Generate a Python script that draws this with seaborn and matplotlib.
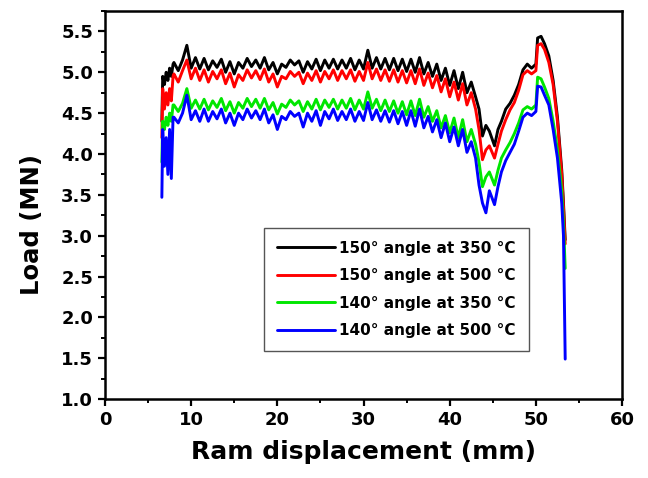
import numpy as np
import pandas as pd
import seaborn as sns
import matplotlib.pyplot as plt
from matplotlib.ticker import MultipleLocator

# ram displacement (mm), shared by all four runs
disp = [6.6, 6.7, 6.9, 7.1, 7.3, 7.5, 7.7, 7.9,
        8.0, 8.5, 9.0, 9.5, 10.0, 10.5, 11.0, 11.5, 12.0, 12.5, 13.0, 13.5,
        14.0, 14.5, 15.0, 15.5, 16.0, 16.5, 17.0, 17.5, 18.0, 18.5, 19.0, 19.5,
        20.0, 20.5, 21.0, 21.5, 22.0, 22.5, 23.0, 23.5, 24.0, 24.5, 25.0, 25.5,
        26.0, 26.5, 27.0, 27.5, 28.0, 28.5, 29.0, 29.5, 30.0, 30.5, 31.0, 31.5,
        32.0, 32.5, 33.0, 33.5, 34.0, 34.5, 35.0, 35.5, 36.0, 36.5, 37.0, 37.5,
        38.0, 38.5, 39.0, 39.5, 40.0, 40.5, 41.0, 41.5, 42.0, 42.5,
        43.0, 43.4, 43.8, 44.2, 44.6, 45.2, 45.6, 46.0, 46.5, 47.0, 47.5, 48.0,
        48.5, 49.0, 49.5, 50.0, 50.2, 50.6, 51.0, 51.5, 52.0, 52.5, 53.0, 53.2, 53.4]

load_150_350 = [4.40, 4.95, 4.85, 5.00, 4.90, 5.05, 4.95, 5.10,
                5.12, 5.02, 5.15, 5.33, 5.05, 5.18, 5.04, 5.17, 5.03, 5.14, 5.06, 5.16,
                5.00, 5.13, 4.98, 5.12, 5.05, 5.17, 5.07, 5.15, 5.05, 5.18, 5.03, 5.12,
                4.98, 5.10, 5.06, 5.15, 5.09, 5.14, 5.00, 5.13, 5.04, 5.16, 5.02, 5.15,
                5.05, 5.16, 5.04, 5.15, 5.05, 5.17, 5.03, 5.15, 5.04, 5.27, 5.05, 5.18,
                5.04, 5.17, 5.03, 5.17, 5.02, 5.16, 5.01, 5.16, 5.00, 5.18, 4.98, 5.12,
                4.95, 5.10, 4.90, 5.05, 4.84, 5.02, 4.80, 5.00, 4.75, 4.88,
                4.70, 4.55, 4.22, 4.35, 4.28, 4.10, 4.30, 4.40, 4.55, 4.62, 4.72, 4.85,
                5.03, 5.10, 5.05, 5.10, 5.42, 5.44, 5.35, 5.20, 4.90, 4.45, 3.80, 3.40, 2.95]

load_150_500 = [4.20, 4.80, 4.55, 4.75, 4.60, 4.80, 4.65, 4.95,
                4.98, 4.88, 5.02, 5.15, 4.92, 5.05, 4.90, 5.03, 4.88, 5.01, 4.92, 5.03,
                4.86, 4.99, 4.82, 4.97, 4.90, 5.03, 4.93, 5.02, 4.91, 5.04, 4.88, 4.98,
                4.82, 4.95, 4.92, 5.01, 4.95, 5.00, 4.86, 4.99, 4.90, 5.02, 4.88, 5.01,
                4.92, 5.03, 4.90, 5.02, 4.92, 5.03, 4.89, 5.01, 4.90, 5.12, 4.92, 5.04,
                4.90, 5.03, 4.89, 5.03, 4.88, 5.02, 4.87, 5.02, 4.86, 5.04, 4.84, 4.99,
                4.81, 4.96, 4.76, 4.92, 4.70, 4.88, 4.66, 4.86, 4.60, 4.75,
                4.55, 4.30, 3.93, 4.05, 4.10, 3.95, 4.12, 4.28, 4.42, 4.54, 4.63, 4.78,
                4.97, 5.02, 4.98, 5.02, 5.33, 5.35, 5.28, 5.12, 4.85, 4.40, 3.75, 3.35, 2.90]

load_140_350 = [3.90, 4.40, 4.30, 4.45, 4.35, 4.50, 4.40, 4.60,
                4.60, 4.52, 4.62, 4.80, 4.56, 4.66, 4.55, 4.67, 4.54, 4.65, 4.57, 4.68,
                4.53, 4.64, 4.50, 4.63, 4.56, 4.68, 4.58, 4.67, 4.56, 4.68, 4.54, 4.63,
                4.49, 4.61, 4.57, 4.66, 4.60, 4.65, 4.52, 4.64, 4.55, 4.67, 4.54, 4.66,
                4.57, 4.67, 4.55, 4.66, 4.56, 4.68, 4.54, 4.66, 4.55, 4.76, 4.56, 4.67,
                4.53, 4.66, 4.52, 4.65, 4.50, 4.64, 4.48, 4.65, 4.47, 4.67, 4.45, 4.58,
                4.40, 4.53, 4.32, 4.47, 4.26, 4.44, 4.20, 4.42, 4.15, 4.30,
                4.12, 3.90, 3.60, 3.72, 3.78, 3.62, 3.80, 3.95, 4.05, 4.14, 4.25, 4.38,
                4.54, 4.58, 4.55, 4.60, 4.94, 4.92, 4.82, 4.68, 4.40, 4.05, 3.55, 3.15, 2.60]

load_140_500 = [3.47, 4.30, 3.85, 4.20, 3.75, 4.30, 3.70, 4.45,
                4.45, 4.38, 4.50, 4.72, 4.42, 4.53, 4.40, 4.55, 4.40, 4.52, 4.43, 4.55,
                4.38, 4.50, 4.35, 4.50, 4.42, 4.55, 4.44, 4.53, 4.42, 4.55, 4.38, 4.48,
                4.30, 4.46, 4.42, 4.52, 4.46, 4.50, 4.33, 4.50, 4.40, 4.53, 4.35, 4.52,
                4.43, 4.55, 4.41, 4.52, 4.42, 4.55, 4.40, 4.52, 4.41, 4.63, 4.42, 4.54,
                4.40, 4.53, 4.39, 4.53, 4.37, 4.52, 4.35, 4.53, 4.34, 4.55, 4.32, 4.46,
                4.27, 4.42, 4.20, 4.38, 4.15, 4.33, 4.10, 4.30, 4.02, 4.15,
                3.95, 3.62, 3.40, 3.28, 3.55, 3.38, 3.60, 3.78, 3.92, 4.02, 4.12, 4.28,
                4.45, 4.50, 4.47, 4.52, 4.83, 4.82, 4.72, 4.60, 4.30, 3.95, 3.40, 3.00, 1.49]

labels = ["150° angle at 350 °C", "150° angle at 500 °C",
          "140° angle at 350 °C", "140° angle at 500 °C"]
colors = ["#000000", "#ff0000", "#00e600", "#0000ff"]

frames = []
for lab, vals in zip(labels, [load_150_350, load_150_500, load_140_350, load_140_500]):
    frames.append(pd.DataFrame({"disp": disp, "load": vals, "run": lab}))
df = pd.concat(frames, ignore_index=True)

sns.set_style("ticks")
plt.rcParams["font.family"] = ["DejaVu Sans"]
plt.rcParams["font.weight"] = "bold"
plt.rcParams["text.color"] = "black"
plt.rcParams["axes.labelcolor"] = "black"
plt.rcParams["xtick.color"] = "black"
plt.rcParams["ytick.color"] = "black"

fig = plt.figure(figsize=(6.48, 4.78), dpi=100)
ax = fig.add_axes([0.162, 0.165, 0.798, 0.812])

sns.lineplot(data=df, x="disp", y="load", hue="run", hue_order=labels,
             palette=colors, estimator=None, sort=False, linewidth=2.1, ax=ax)

ax.set_xlim(0, 60)
ax.set_ylim(1.0, 5.75)
ax.xaxis.set_major_locator(MultipleLocator(10))
ax.xaxis.set_minor_locator(MultipleLocator(5))
ax.yaxis.set_major_locator(MultipleLocator(0.5))
ax.yaxis.set_minor_locator(MultipleLocator(0.25))
ax.set_yticks([1.0, 1.5, 2.0, 2.5, 3.0, 3.5, 4.0, 4.5, 5.0, 5.5])
ax.yaxis.set_major_formatter(plt.FormatStrFormatter("%.1f"))

ax.tick_params(which="major", direction="out", length=5, width=1.6, labelsize=13,
               colors="black")
ax.tick_params(which="minor", direction="out", length=3, width=1.4, colors="black")
ax.tick_params(top=False, right=False, which="both")
for lbl in ax.get_xticklabels() + ax.get_yticklabels():
    lbl.set_fontweight("bold")
for sp in ax.spines.values():
    sp.set_visible(True)
    sp.set_linewidth(1.8)
    sp.set_color("black")

ax.set_xlabel("Ram displacement (mm)", fontsize=18, fontweight="bold", labelpad=8)
ax.set_ylabel("Load (MN)", fontsize=17.5, fontweight="bold")
ax.yaxis.set_label_coords(-0.118, 0.45)

leg = ax.legend(loc="upper left", bbox_to_anchor=(0.307, 0.442), frameon=True,
                fancybox=False, edgecolor="#555555", framealpha=1,
                handlelength=3.8, handletextpad=0.3, borderpad=0.85,
                labelspacing=0.82, borderaxespad=0,
                prop={"size": 11, "weight": "bold"})
leg.get_frame().set_linewidth(1.0)
for txt in leg.get_texts():
    txt.set_color("black")

fig.savefig("out.png", dpi=100)
